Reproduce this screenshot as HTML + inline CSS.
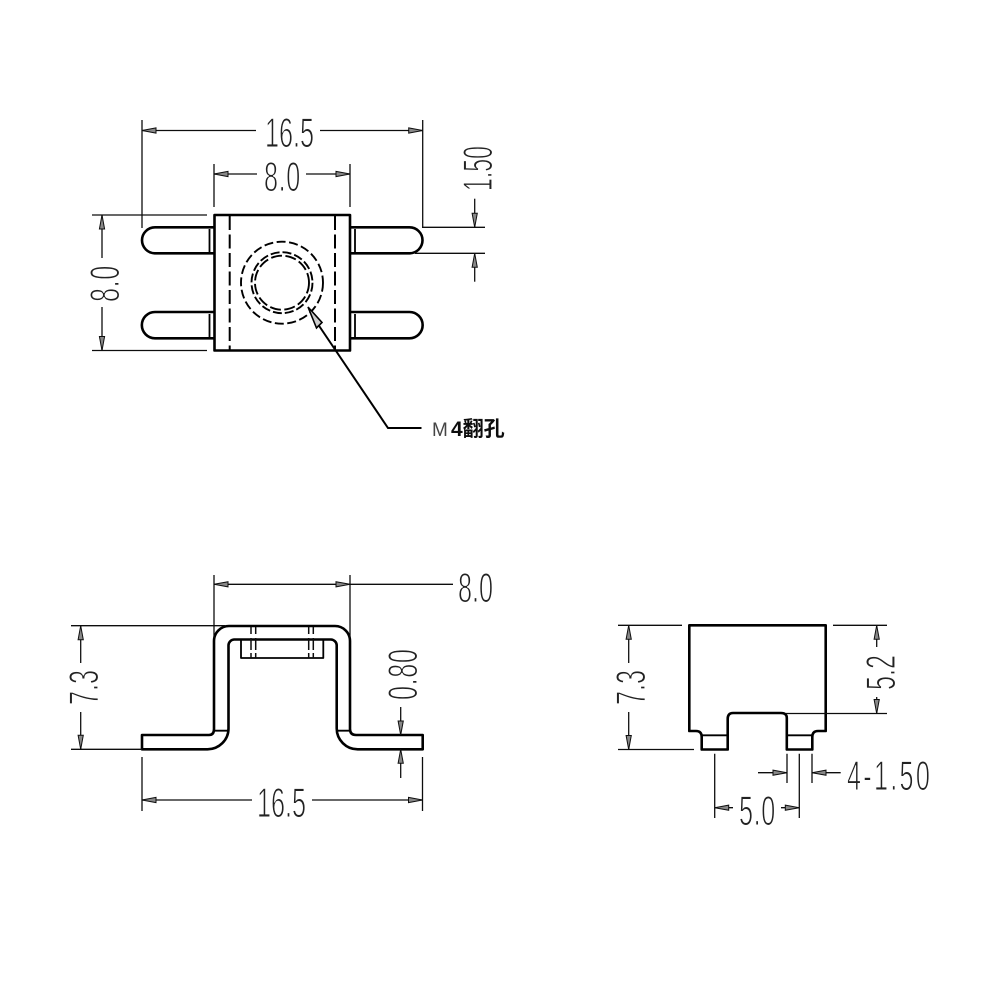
<!DOCTYPE html>
<html>
<head>
<meta charset="utf-8">
<style>
html,body{margin:0;padding:0;background:#fff;width:1000px;height:1000px;overflow:hidden}
svg{display:block}
.o{fill:none;stroke:#000;stroke-width:2.6;stroke-linejoin:round}
.d{fill:none;stroke:#000;stroke-width:2;stroke-dasharray:14 4.500}
.t{fill:none;stroke:#111;stroke-width:1.300}
.n{font-family:"Liberation Sans",sans-serif;font-size:42px;fill:#222;stroke:#fff;stroke-width:1.100px}
</style>
</head>
<body>
<svg width="1000" height="1000" viewBox="0 0 1000 1000" xmlns="http://www.w3.org/2000/svg">
<defs>
<marker id="a" markerUnits="userSpaceOnUse" markerWidth="18" markerHeight="8" refX="15" refY="4" orient="auto-start-reverse">
<path d="M15,4 L1,1.400 V6.600 Z" fill="#888" stroke="#111" stroke-width="1"/>
</marker>
<filter id="b" x="0" y="0" width="100%" height="100%"><feGaussianBlur stdDeviation="0.35"/></filter>
</defs>
<g filter="url(#b)">
<rect width="1000" height="1000" fill="#fff"/>

<!-- Top view -->
<rect class="o" x="214.500" y="215" width="135.500" height="135.500"/>
<path class="o" d="M214,227.300 H155 a13,13 0 0 0 0,26 H214"/>
<path class="o" d="M214,312 H155 a13,13 0 0 0 0,26.300 H214"/>
<path class="o" d="M350,227.300 H409.500 a13,13 0 0 1 0,26 H350"/>
<path class="o" d="M350,312 H409.500 a13,13 0 0 1 0,26.300 H350"/>
<path class="o" d="M209.500,229 V252 M209.500,314 V337 M355,229 V252 M355,314 V337" style="stroke-width:1.800"/>
<path class="d" d="M229.700,216 V350 M335,216 V350"/>
<circle class="d" cx="282" cy="282.700" r="41" style="stroke-dasharray:9 3.500;stroke-width:1.900"/>
<circle class="d" cx="282" cy="282.700" r="30.500" style="stroke-dasharray:9 3;stroke-width:1.900"/>
<circle class="d" cx="282" cy="282.700" r="27" style="stroke-dasharray:11 3.500;stroke-width:1.900"/>

<path class="t" d="M142,120 V228 M422.700,120 V228"/>
<line class="t" x1="256" y1="130.500" x2="142" y2="130.500" marker-end="url(#a)"/>
<line class="t" x1="320" y1="130.500" x2="422.700" y2="130.500" marker-end="url(#a)"/>
<text class="n" transform="translate(265,147) scale(.6,1)">16.5</text>

<path class="t" d="M214,164 V207 M350,164 V207"/>
<line class="t" x1="257" y1="174" x2="214" y2="174" marker-end="url(#a)"/>
<line class="t" x1="306" y1="174" x2="350" y2="174" marker-end="url(#a)"/>
<text class="n" transform="translate(264,191) scale(.6,1)" letter-spacing="1">8.0</text>

<path class="t" d="M92,215 H207 M92,350.500 H207"/>
<line class="t" x1="102" y1="258" x2="102" y2="215" marker-end="url(#a)"/>
<line class="t" x1="102" y1="307" x2="102" y2="350.500" marker-end="url(#a)"/>
<text class="n" transform="translate(119,302) rotate(-90) scale(.6,1)" letter-spacing="1">8.0</text>

<path class="t" d="M422,227.300 H485 M415,253.300 H485"/>
<line class="t" x1="474.700" y1="198.700" x2="474.700" y2="227.300" marker-end="url(#a)"/>
<line class="t" x1="474.700" y1="281.700" x2="474.700" y2="253.300" marker-end="url(#a)"/>
<text class="n" transform="translate(492,191) rotate(-90) scale(.55,1)">1.50</text>

<path d="M308,307 L322,322.500 L316.500,328 Z" fill="#ccc" stroke="#000" stroke-width="1.600"/>
<path d="M318.500,325 L388,428 H421.500" fill="none" stroke="#000" stroke-width="2"/>
<text x="432" y="436" font-family="Liberation Sans,sans-serif" font-size="19" fill="#444">M</text>
<text x="451" y="436" font-family="'Liberation Sans','Noto Sans CJK SC',sans-serif" font-size="21" font-weight="700" fill="#111">4翻孔</text>

<!-- Front view -->
<path class="o" d="M142,735 H209 Q214,735 214,729 V641 A15,15 0 0 1 229,626 H335 A15,15 0 0 1 350,641 V729 Q350,735 356,735 H422.700 V749.300 H358 A21,21 0 0 1 336.700,728 V645 A6,6 0 0 0 331,639.500 H234 A6,6 0 0 0 228.500,645 V728 A21,21 0 0 1 207,749.300 H142 Z"/>
<path class="o" d="M214,730.700 H228.500 M336.700,730.700 H350" style="stroke-width:1.800"/>
<path class="o" d="M241,640 V658 H323.300 V640" style="stroke-width:1.800"/>
<path class="t" d="M251,627 V634 M251,638 V650 M251,653 V658 M255.700,627 V634 M255.700,638 V650 M255.700,653 V658 M308.700,627 V634 M308.700,638 V650 M308.700,653 V658 M313.300,627 V634 M313.300,638 V650 M313.300,653 V658" style="stroke-width:1.500"/>

<path class="t" d="M214,575 V638 M350,575 V638"/>
<line class="t" x1="282" y1="584.300" x2="214" y2="584.300" marker-end="url(#a)"/>
<line class="t" x1="282" y1="584.300" x2="350" y2="584.300" marker-end="url(#a)"/>
<line class="t" x1="350" y1="584.300" x2="453" y2="584.300"/>
<text class="n" transform="translate(458,602) scale(.6,1)">8.0</text>

<path class="t" d="M71,625.700 H225 M71,749.300 H142"/>
<line class="t" x1="80.700" y1="663" x2="80.700" y2="625.700" marker-end="url(#a)"/>
<line class="t" x1="80.700" y1="712" x2="80.700" y2="749.300" marker-end="url(#a)"/>
<text class="n" transform="translate(98,705) rotate(-90) scale(.6,1)">7.3</text>

<line class="t" x1="400.700" y1="707" x2="400.700" y2="735" marker-end="url(#a)"/>
<line class="t" x1="400.700" y1="778" x2="400.700" y2="749.300" marker-end="url(#a)"/>
<text class="n" transform="translate(417,700) rotate(-90) scale(.6,1)" letter-spacing="1">0.80</text>

<path class="t" d="M142,757 V811 M422.500,757 V811"/>
<line class="t" x1="252" y1="800" x2="142" y2="800" marker-end="url(#a)"/>
<line class="t" x1="312" y1="800" x2="422.500" y2="800" marker-end="url(#a)"/>
<text class="n" transform="translate(257,817) scale(.6,1)">16.5</text>

<!-- Side view -->
<path class="o" d="M689.300,625.300 H825.700 V731 H818 Q812.300,731 812.300,737 V749.500 H786.800 V718 Q786.800,713 781,713 H733 Q727.700,713 727.700,719 V749.500 H701.700 V737 Q701.700,731 696,731 H689.300 Z"/>
<path class="o" d="M701.700,735.300 H727.700 M786.800,735.300 H812.300" style="stroke-width:1.800"/>

<path class="t" d="M618,625.300 H682 M618,749.500 H694"/>
<line class="t" x1="628.700" y1="663" x2="628.700" y2="625.300" marker-end="url(#a)"/>
<line class="t" x1="628.700" y1="712" x2="628.700" y2="749.500" marker-end="url(#a)"/>
<text class="n" transform="translate(645,705) rotate(-90) scale(.6,1)">7.3</text>

<path class="t" d="M833,625.300 H887 M786,713.500 H887"/>
<line class="t" x1="876.700" y1="647" x2="876.700" y2="625.300" marker-end="url(#a)"/>
<line class="t" x1="876.700" y1="697" x2="876.700" y2="713.500" marker-end="url(#a)"/>
<text class="n" transform="translate(895,690) rotate(-90) scale(.6,1)">5.2</text>

<path class="t" d="M714.700,753.700 V818 M799.300,753.700 V818 M787,753.700 V783 M812,753.700 V783"/>
<line class="t" x1="758" y1="772.700" x2="787" y2="772.700" marker-end="url(#a)"/>
<line class="t" x1="840.700" y1="772.700" x2="812" y2="772.700" marker-end="url(#a)"/>
<text class="n" transform="translate(847,790) scale(.6,1)" letter-spacing="3.800">4-1.50</text>

<line class="t" x1="733" y1="807.700" x2="714.700" y2="807.700" marker-end="url(#a)"/>
<line class="t" x1="781" y1="807.700" x2="799.300" y2="807.700" marker-end="url(#a)"/>
<text class="n" transform="translate(739,825) scale(.6,1)" letter-spacing="1">5.0</text>
</g>
</svg>
</body>
</html>
